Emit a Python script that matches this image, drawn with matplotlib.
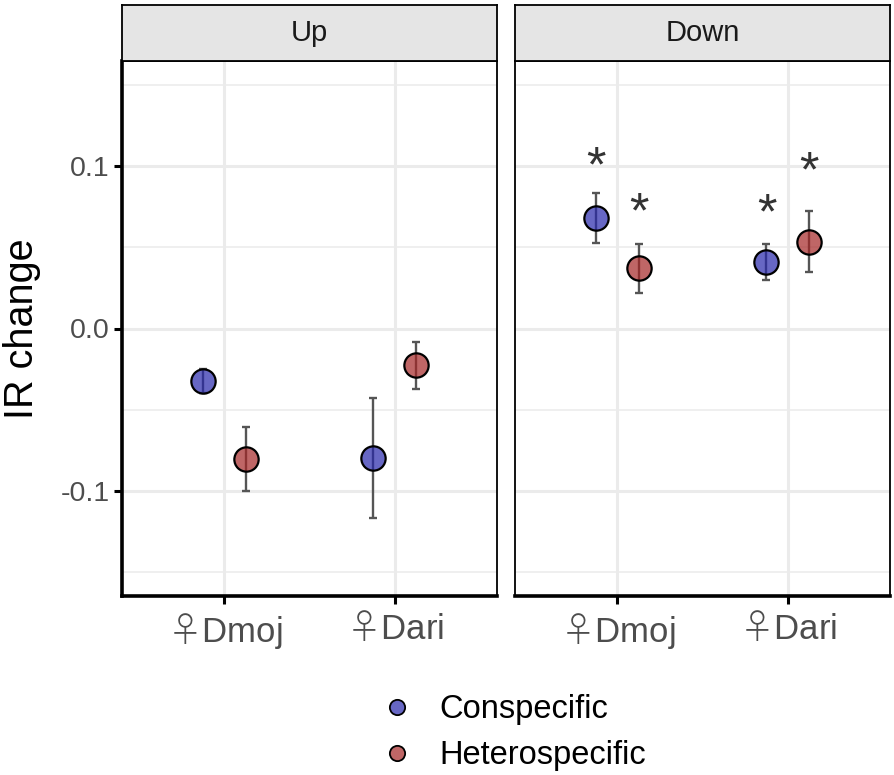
import numpy as np
import matplotlib
matplotlib.use("Agg")
import matplotlib.pyplot as plt
from matplotlib.lines import Line2D

plt.rcParams['font.family'] = ['Liberation Sans', 'DejaVu Sans']
# the female sign comes from a CJK font via mathtext, it is larger and thinner there
plt.rcParams['mathtext.fontset'] = 'custom'
plt.rcParams['mathtext.rm'] = 'Noto Sans CJK JP:light'

# data
panels = ['Up', 'Down']
groups = ['$\\mathrm{\u2640}$Dmoj', '$\\mathrm{\u2640}$Dari']
series = ['Conspecific', 'Heterospecific']

up_con_mean = [-0.0321, -0.0800]
up_con_se = [0.0074, 0.0371]
up_het_mean = [-0.0805, -0.0228]
up_het_se = [0.0198, 0.0146]

down_con_mean = [0.0683, 0.0412]
down_con_se = [0.0155, 0.0111]
down_het_mean = [0.0372, 0.0535]
down_het_se = [0.0150, 0.0187]

# significance stars (Down panel only), y of glyph centre
down_con_star = [0.1056, 0.0765]
down_het_star = [0.0772, 0.1025]

means = {'Up': (up_con_mean, up_het_mean), 'Down': (down_con_mean, down_het_mean)}
ses = {'Up': (up_con_se, up_het_se), 'Down': (down_con_se, down_het_se)}
stars = {'Up': None, 'Down': (down_con_star, down_het_star)}

fills = ['#2727AB', '#A52525']
dodge = [-0.125, 0.125]
star_fs = 36

fig = plt.figure(figsize=(8.94, 7.75), dpi=100)

W, H = 894, 775
pan_x = [122, 515]
pan_w = 375
pan_top, pan_bot = 61, 596
strip_top = 5

for k, p in enumerate(panels):
    ax = fig.add_axes([pan_x[k] / W, (H - pan_bot) / H, pan_w / W, (pan_bot - pan_top) / H])
    sx = fig.add_axes([pan_x[k] / W, (H - pan_top) / H, pan_w / W, (pan_top - strip_top) / H])
    sx.set_facecolor('#E5E5E5')
    sx.set_xticks([])
    sx.set_yticks([])
    for s in sx.spines.values():
        s.set_linewidth(1.3)
        s.set_color('black')
    sx.text(0.5, 0.5, p, ha='center', va='center', fontsize=21, color='#1A1A1A',
            transform=sx.transAxes)

    x = np.arange(1, len(groups) + 1)
    for j in range(2):
        xs = x + dodge[j]
        ax.errorbar(xs, means[p][j], yerr=ses[p][j], fmt='none', ecolor='#555555',
                    elinewidth=1.7, capsize=3, capthick=1.7, zorder=3)
        ax.plot(xs, means[p][j], 'o', ms=17.5, mfc=fills[j] + 'B3', mec='black',
                mew=1.6, zorder=4)
        if stars[p] is not None:
            for xi, yi in zip(xs, stars[p][j]):
                # glyph centre of '*' sits about half an em above the baseline
                ax.annotate('*', (xi, yi), xytext=(0, -0.48 * star_fs), textcoords='offset points',
                            ha='center', va='baseline', fontsize=star_fs,
                            color='#333333', zorder=5)

    ax.set_xlim(0.4, 2.6)
    ax.set_ylim(-0.165, 0.165)
    ax.set_xticks(x)
    ax.set_xticklabels(groups, fontsize=25, color='#4D4D4D')
    ax.set_yticks([-0.1, 0.0, 0.1])
    ax.set_yticks([-0.15, -0.05, 0.05, 0.15], minor=True)
    ax.grid(True, which='major', color='#EBEBEB', lw=2.2)
    ax.grid(True, which='minor', axis='y', color='#EBEBEB', lw=1.1)
    ax.set_axisbelow(True)
    ax.tick_params(axis='x', length=6, width=2.2, color='black', pad=4.5)
    ax.tick_params(axis='y', which='major', length=6, width=2.2, color='black',
                   labelsize=20.5, labelcolor='#4D4D4D', pad=3)
    ax.tick_params(axis='y', which='minor', length=0)
    for s in ax.spines.values():
        s.set_color('black')
        s.set_linewidth(1.3)
    ax.spines['bottom'].set_linewidth(2.6)
    if k == 0:
        ax.spines['left'].set_linewidth(2.6)
        ax.set_yticklabels(['-0.1', '0.0', '0.1'])
        ax.set_ylabel('IR change', fontsize=28.5, labelpad=14)
    else:
        ax.tick_params(axis='y', which='major', length=0, labelleft=False)

handles = [Line2D([], [], ls='none', marker='o', ms=11, mfc=f + 'B3', mec='black', mew=1.3)
           for f in fills]
fig.legend(handles, series, loc='upper left', bbox_to_anchor=(361 / W, 1 - 678 / H),
           frameon=False, fontsize=23.5, handletextpad=0.7, labelspacing=0.45,
           handlelength=1.2, borderpad=0)

fig.savefig('out.png', dpi=100)
